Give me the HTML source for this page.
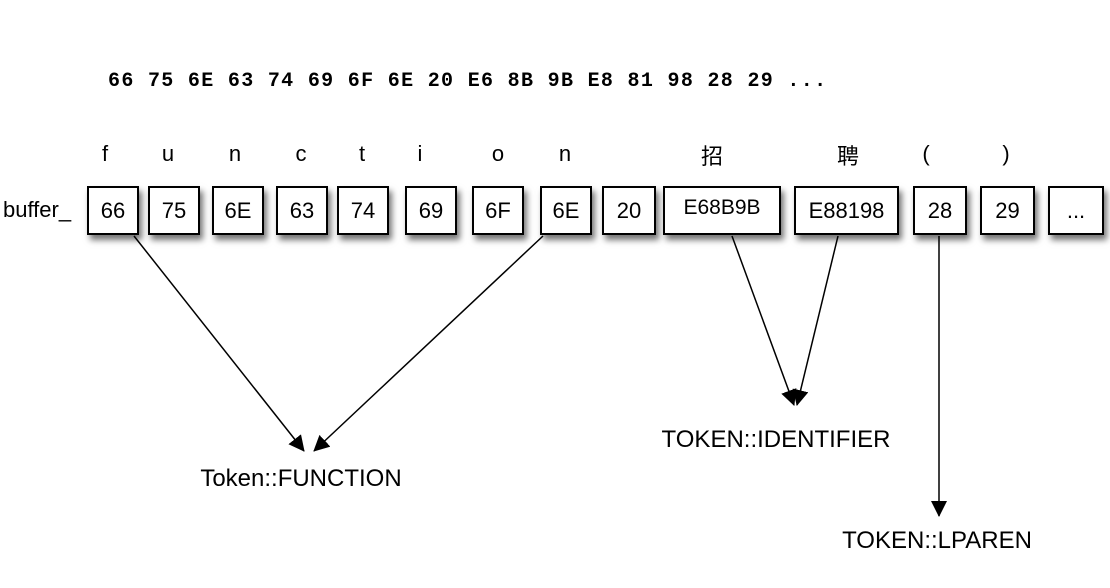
<!DOCTYPE html>
<html><head><meta charset="utf-8"><style>
body{margin:0;background:#fff;width:1110px;height:588px;overflow:hidden;position:relative;font-family:"Liberation Sans",sans-serif}
.b{position:absolute;top:186px;height:49px;border:2px solid #000;box-sizing:border-box;background:#fff;box-shadow:3px 5px 6px rgba(0,0,0,.55);font-size:22px;text-align:center;line-height:45px}
.l{position:absolute;top:141px;font-size:22px;transform:translateX(-50%)}
.t{position:absolute;font-size:24px;transform:translateX(-50%)}
</style></head><body>
<div style="position:absolute;left:108px;top:70px;font:bold 20px 'Liberation Mono',monospace;letter-spacing:1.32px">66 75 6E 63 74 69 6F 6E 20 E6 8B 9B E8 81 98 28 29 ...</div>
<div style="position:absolute;left:3px;top:197px;font-size:22px">buffer_</div>
<div class="l" style="left:105px">f</div><div class="l" style="left:168px">u</div><div class="l" style="left:235px">n</div><div class="l" style="left:301px">c</div><div class="l" style="left:362px">t</div><div class="l" style="left:420px">i</div><div class="l" style="left:498px">o</div><div class="l" style="left:565px">n</div>
<div class="l" style="left:712px;top:139px;font-family:'Noto Sans CJK SC',sans-serif">招</div><div class="l" style="left:848px;top:139px;font-family:'Noto Sans CJK SC',sans-serif">聘</div><div class="l" style="left:926px">(</div><div class="l" style="left:1006px">)</div>
<div class="b" style="left:87px;width:52px">66</div>
<div class="b" style="left:148px;width:52px">75</div>
<div class="b" style="left:212px;width:52px">6E</div>
<div class="b" style="left:276px;width:52px">63</div>
<div class="b" style="left:337px;width:52px">74</div>
<div class="b" style="left:405px;width:52px">69</div>
<div class="b" style="left:472px;width:52px">6F</div>
<div class="b" style="left:540px;width:52px">6E</div>
<div class="b" style="left:602px;width:54px">20</div>
<div class="b" style="left:663px;width:118px;line-height:40px;font-size:21px">E68B9B</div>
<div class="b" style="left:794px;width:105px">E88198</div>
<div class="b" style="left:913px;width:54px">28</div>
<div class="b" style="left:980px;width:55px">29</div>
<div class="b" style="left:1048px;width:56px">...</div>
<svg width="1110" height="588" style="position:absolute;left:0;top:0">
<defs><marker id="m" markerWidth="16" markerHeight="16" refX="15" refY="8" orient="auto" markerUnits="userSpaceOnUse" viewBox="0 0 16 16"><path d="M0,0L16,8L0,16z"/></marker></defs>
<g stroke="#000" stroke-width="1.5" fill="none">
<line x1="134" y1="236" x2="304" y2="451" marker-end="url(#m)"/>
<line x1="543" y1="236" x2="314" y2="451" marker-end="url(#m)"/>
<line x1="732" y1="236" x2="794" y2="405" marker-end="url(#m)"/>
<line x1="838" y1="236" x2="797" y2="405" marker-end="url(#m)"/>
<line x1="939" y1="236" x2="939" y2="516" marker-end="url(#m)"/>
</g></svg>
<div class="t" style="left:301px;top:465px">Token::FUNCTION</div>
<div class="t" style="left:776px;top:426px">TOKEN::IDENTIFIER</div>
<div class="t" style="left:937px;top:527px">TOKEN::LPAREN</div>
</body></html>
